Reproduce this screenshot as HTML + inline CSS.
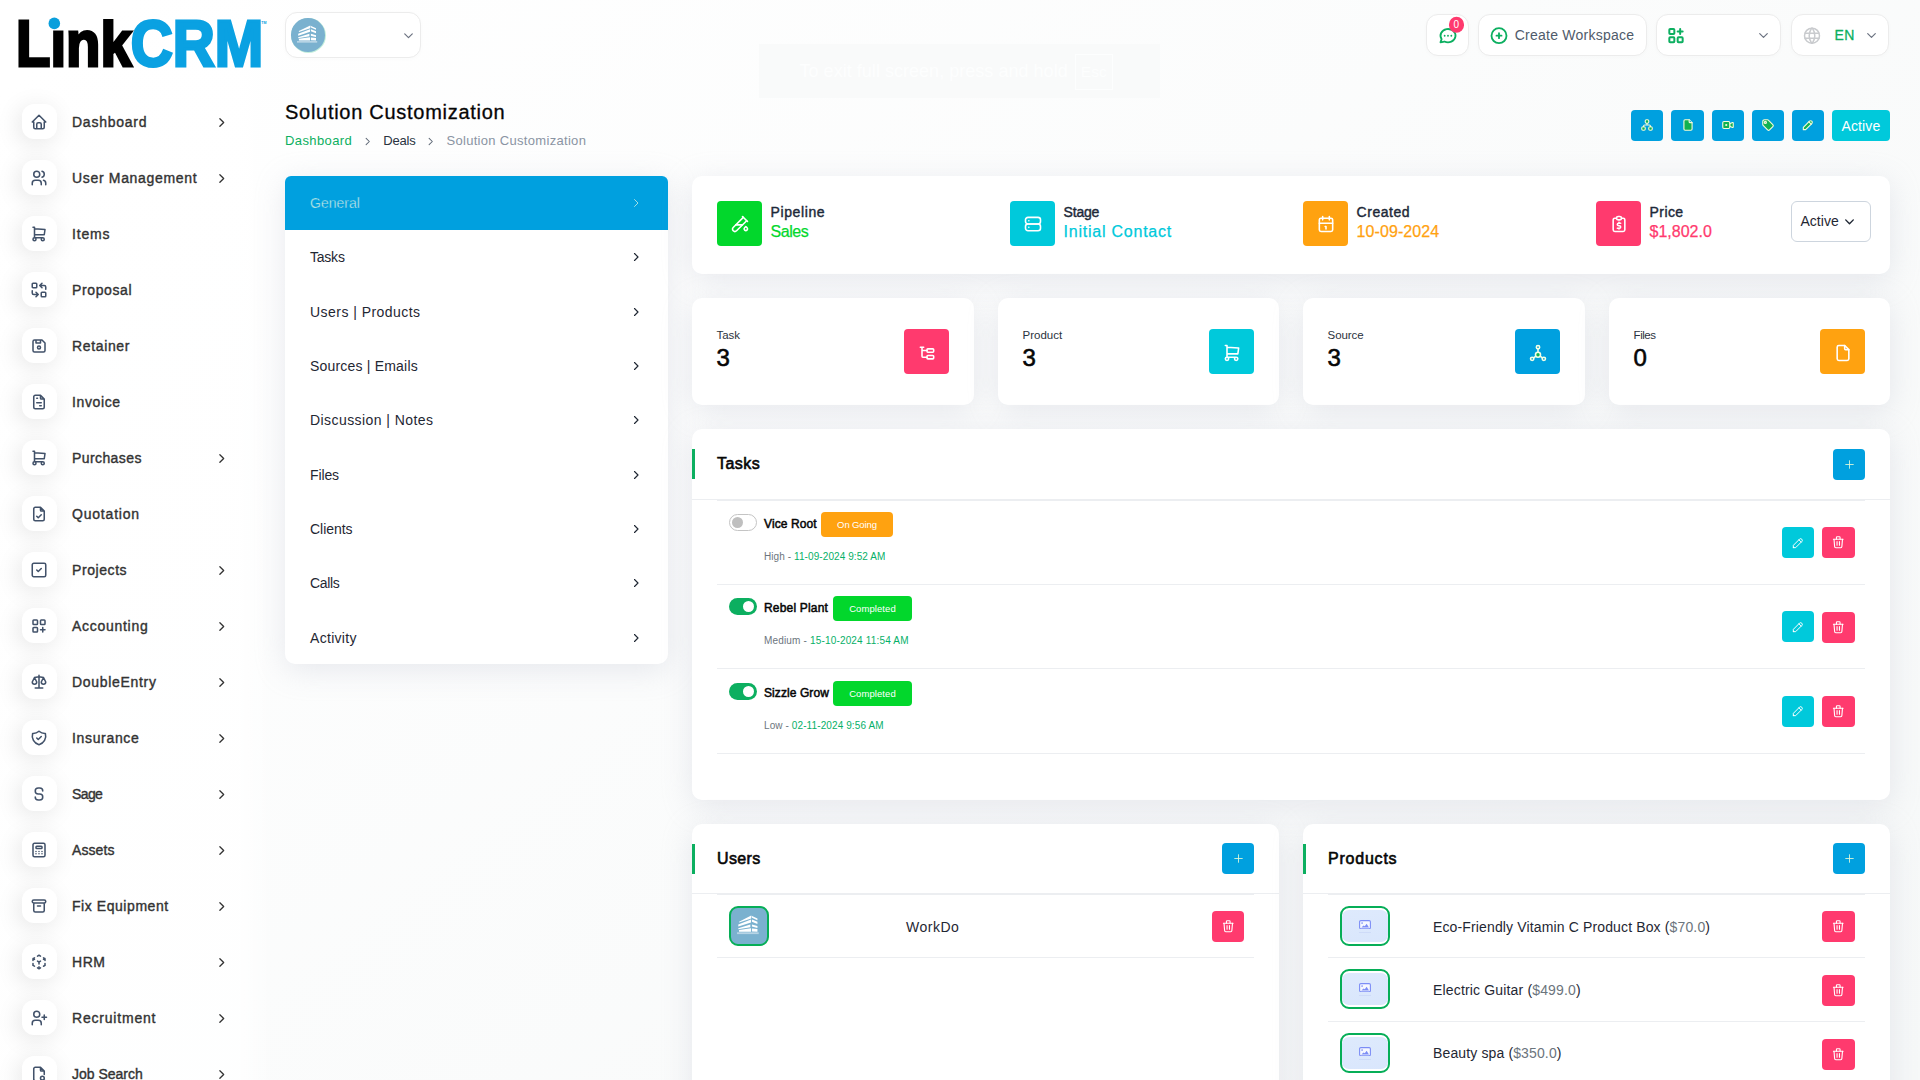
<!DOCTYPE html>
<html lang="en">
<head>
<meta charset="utf-8">
<title>Solution Customization</title>
<style>
*{box-sizing:border-box;margin:0;padding:0}
html,body{width:1920px;height:1080px;overflow:hidden}
body{font-family:"Liberation Sans",sans-serif;background:linear-gradient(141.55deg,rgba(246,248,248,0) 3.46%,#f6f8f8 99.86%),#fff;color:#060606;position:relative;font-size:14px}
.abs{position:absolute}
svg{display:block}
i{display:block}
.card{position:absolute;background:#fff;border-radius:10px;box-shadow:0 6px 30px rgba(182,186,203,.3)}
#sidebar{position:absolute;left:0;top:0;width:280px;height:1080px;background:linear-gradient(90deg,rgba(255,255,255,.85) 0,rgba(255,255,255,.85) 240px,rgba(255,255,255,0) 272px)}
.mi{position:absolute;left:22px;width:230px;height:35px}
.mi .ib{position:absolute;left:0;top:-1px;padding:1.500px 1px 0 0;width:35px;height:35px;border-radius:12px;background:#fff;box-shadow:-3px 4px 23px rgba(0,0,0,.1);display:flex;align-items:center;justify-content:center}
.mi .ib svg{width:18px;height:18px;stroke:#42526a;fill:none;stroke-width:2.05;stroke-linecap:round;stroke-linejoin:round}
.mi .tx{position:absolute;left:50px;top:0;line-height:35px;font-size:14px;font-weight:400;color:#333;white-space:nowrap;-webkit-text-stroke:.38px #333}
.mi .ch{position:absolute;left:193px;top:11.500px;width:13px;height:13px;stroke:#333;fill:none;stroke-width:2.4;stroke-linecap:round;stroke-linejoin:round}
.hb.r>*{transform:translateY(.700px)}
.hb{position:absolute;top:13.800px;height:41.900px;background:#fff;border-radius:12px;border:1px solid #ececec;box-shadow:0 1px 5px rgba(0,0,0,.02)}
.btn{position:absolute;display:flex;align-items:center;justify-content:center}
.ttl{font-size:20px;line-height:28px;color:#060606;white-space:nowrap;-webkit-text-stroke:.3px #060606}
.bc{display:flex;align-items:center;font-size:13px;line-height:20px;white-space:nowrap}
.bcs{width:11px;height:11px;margin:1px 10px 0 10px;fill:none;stroke:#5d6775;stroke-width:2.2;stroke-linecap:round;stroke-linejoin:round}
.ln{position:absolute;left:25px;width:332px;height:24px;line-height:24px;font-size:14px;white-space:nowrap}
.lch{position:absolute;right:0;top:6px;width:12px;height:12px;fill:none;stroke:#1f2733;stroke-width:2.3;stroke-linecap:round;stroke-linejoin:round}
.il1{font-size:14px;font-weight:400;line-height:21px;color:#1d2939;white-space:nowrap;-webkit-text-stroke:.42px #1d2939}
.il2{font-size:16px;line-height:22px;white-space:nowrap;-webkit-text-stroke:.25px currentColor}
.sl{font-size:11.500px;line-height:16px;color:#2b3340;white-space:nowrap}
.sn{font-size:24px;line-height:32px;color:#060606;white-space:nowrap;-webkit-text-stroke:.6px #060606}
.ch5{font-size:16px;font-weight:400;line-height:29px;color:#060606;white-space:nowrap;-webkit-text-stroke:.6px #060606}
.tn{font-size:12px;font-weight:400;-webkit-text-stroke:.5px #060606;line-height:22px;color:#060606;white-space:nowrap}
.tb{height:25px;line-height:25px;text-align:center;color:#fff;font-size:9.500px;border-radius:4px;white-space:nowrap}
.ts{font-size:10px;line-height:16px;color:#6c757d;white-space:nowrap}
.pn{font-size:14px;line-height:22px;color:#1f2733;white-space:nowrap}

</style>
</head>
<body>
<div id="sidebar">
<div class="mi" style="top:104.5px"><span class="ib"><svg viewBox="0 0 24 24"><path d="M5 12l-2 0l9 -9l9 9l-2 0 M5 12v7a2 2 0 0 0 2 2h10a2 2 0 0 0 2 -2v-7 M9 21v-6a2 2 0 0 1 2 -2h2a2 2 0 0 1 2 2v6"/></svg></span><span class="tx"><span id="m0" style="letter-spacing:0.762px;">Dashboard</span></span><svg class="ch" viewBox="0 0 24 24"><path d="M9 5l7 7l-7 7"/></svg></div>
<div class="mi" style="top:160.5px"><span class="ib"><svg viewBox="0 0 24 24"><path d="M9 7m-4 0a4 4 0 1 0 8 0a4 4 0 1 0 -8 0 M3 21v-2a4 4 0 0 1 4 -4h4a4 4 0 0 1 4 4v2 M16 3.13a4 4 0 0 1 0 7.75 M21 21v-2a4 4 0 0 0 -3 -3.85"/></svg></span><span class="tx"><span id="m1" style="letter-spacing:0.673px;">User Management</span></span><svg class="ch" viewBox="0 0 24 24"><path d="M9 5l7 7l-7 7"/></svg></div>
<div class="mi" style="top:216.5px"><span class="ib"><svg viewBox="0 0 24 24"><path d="M6 19m-2 0a2 2 0 1 0 4 0a2 2 0 1 0 -4 0 M17 19m-2 0a2 2 0 1 0 4 0a2 2 0 1 0 -4 0 M17 17h-11v-14h-2 M6 5l14 1l-1 7h-13"/></svg></span><span class="tx"><span id="m2" style="letter-spacing:0.800px;">Items</span></span></div>
<div class="mi" style="top:272.5px"><span class="ib"><svg viewBox="0 0 24 24"><path d="M3 3m0 1a1 1 0 0 1 1 -1h4a1 1 0 0 1 1 1v4a1 1 0 0 1 -1 1h-4a1 1 0 0 1 -1 -1z M15 15m0 1a1 1 0 0 1 1 -1h4a1 1 0 0 1 1 1v4a1 1 0 0 1 -1 1h-4a1 1 0 0 1 -1 -1z M21 11v-3a2 2 0 0 0 -2 -2h-6l3 3m0 -6l-3 3 M3 13v3a2 2 0 0 0 2 2h6l-3 -3m0 6l3 -3"/></svg></span><span class="tx"><span id="m3" style="letter-spacing:0.622px;">Proposal</span></span></div>
<div class="mi" style="top:328.5px"><span class="ib"><svg viewBox="0 0 24 24"><path d="M6 4h10l4 4v10a2 2 0 0 1 -2 2h-12a2 2 0 0 1 -2 -2v-12a2 2 0 0 1 2 -2 M12 14m-2 0a2 2 0 1 0 4 0a2 2 0 1 0 -4 0 M14 4l0 4l-6 0l0 -4"/></svg></span><span class="tx"><span id="m4" style="letter-spacing:0.649px;">Retainer</span></span></div>
<div class="mi" style="top:384.5px"><span class="ib"><svg viewBox="0 0 24 24"><path d="M14 3v4a1 1 0 0 0 1 1h4 M17 21h-10a2 2 0 0 1 -2 -2v-14a2 2 0 0 1 2 -2h7l5 5v11a2 2 0 0 1 -2 2z M9 7l1 0 M9 13l6 0 M13 17l2 0"/></svg></span><span class="tx"><span id="m5" style="letter-spacing:0.621px;">Invoice</span></span></div>
<div class="mi" style="top:440.5px"><span class="ib"><svg viewBox="0 0 24 24"><path d="M6 19m-2 0a2 2 0 1 0 4 0a2 2 0 1 0 -4 0 M17 19m-2 0a2 2 0 1 0 4 0a2 2 0 1 0 -4 0 M17 17h-11v-14h-2 M6 5l14 1l-1 7h-13"/></svg></span><span class="tx"><span id="m6" style="letter-spacing:0.407px;">Purchases</span></span><svg class="ch" viewBox="0 0 24 24"><path d="M9 5l7 7l-7 7"/></svg></div>
<div class="mi" style="top:496.5px"><span class="ib"><svg viewBox="0 0 24 24"><path d="M14 3v4a1 1 0 0 0 1 1h4 M17 21h-10a2 2 0 0 1 -2 -2v-14a2 2 0 0 1 2 -2h7l5 5v11a2 2 0 0 1 -2 2z M9 15l2 2l4 -4"/></svg></span><span class="tx"><span id="m7" style="letter-spacing:0.800px;">Quotation</span></span></div>
<div class="mi" style="top:552.5px"><span class="ib"><svg viewBox="0 0 24 24"><path d="M3 3m0 2a2 2 0 0 1 2 -2h14a2 2 0 0 1 2 2v14a2 2 0 0 1 -2 2h-14a2 2 0 0 1 -2 -2z M9 12l2 2l4 -4"/></svg></span><span class="tx"><span id="m8" style="letter-spacing:0.575px;">Projects</span></span><svg class="ch" viewBox="0 0 24 24"><path d="M9 5l7 7l-7 7"/></svg></div>
<div class="mi" style="top:608.5px"><span class="ib"><svg viewBox="0 0 24 24"><path d="M4 4m0 1a1 1 0 0 1 1 -1h4a1 1 0 0 1 1 1v4a1 1 0 0 1 -1 1h-4a1 1 0 0 1 -1 -1z M14 4m0 1a1 1 0 0 1 1 -1h4a1 1 0 0 1 1 1v4a1 1 0 0 1 -1 1h-4a1 1 0 0 1 -1 -1z M4 14m0 1a1 1 0 0 1 1 -1h4a1 1 0 0 1 1 1v4a1 1 0 0 1 -1 1h-4a1 1 0 0 1 -1 -1z M14 17h6m-3 -3v6"/></svg></span><span class="tx"><span id="m9" style="letter-spacing:0.713px;">Accounting</span></span><svg class="ch" viewBox="0 0 24 24"><path d="M9 5l7 7l-7 7"/></svg></div>
<div class="mi" style="top:664.5px"><span class="ib"><svg viewBox="0 0 24 24"><path d="M7 20l10 0 M6 6l6 -1l6 1 M12 3l0 17 M9 12l-3 -6l-3 6a3 3 0 0 0 6 0 M21 12l-3 -6l-3 6a3 3 0 0 0 6 0"/></svg></span><span class="tx"><span id="m10" style="letter-spacing:0.686px;">DoubleEntry</span></span><svg class="ch" viewBox="0 0 24 24"><path d="M9 5l7 7l-7 7"/></svg></div>
<div class="mi" style="top:720.5px"><span class="ib"><svg viewBox="0 0 24 24"><path d="M9 12l2 2l4 -4 M12 3a12 12 0 0 0 8.5 3a12 12 0 0 1 -8.5 15a12 12 0 0 1 -8.5 -15a12 12 0 0 0 8.5 -3"/></svg></span><span class="tx"><span id="m11" style="letter-spacing:0.663px;">Insurance</span></span><svg class="ch" viewBox="0 0 24 24"><path d="M9 5l7 7l-7 7"/></svg></div>
<div class="mi" style="top:776.5px"><span class="ib"><svg viewBox="0 0 24 24"><path d="M17 8a4 4 0 0 0 -4 -4h-2a4 4 0 0 0 0 8h2a4 4 0 0 1 0 8h-2a4 4 0 0 1 -4 -4"/></svg></span><span class="tx"><span id="m12" style="letter-spacing:-0.600px;">Sage</span></span><svg class="ch" viewBox="0 0 24 24"><path d="M9 5l7 7l-7 7"/></svg></div>
<div class="mi" style="top:832.5px"><span class="ib"><svg viewBox="0 0 24 24"><path d="M4 3m0 2a2 2 0 0 1 2 -2h12a2 2 0 0 1 2 2v14a2 2 0 0 1 -2 2h-12a2 2 0 0 1 -2 -2z M8 7m0 1a1 1 0 0 1 1 -1h6a1 1 0 0 1 1 1v1a1 1 0 0 1 -1 1h-6a1 1 0 0 1 -1 -1z M8 14l0 .01 M12 14l0 .01 M16 14l0 .01 M8 17l0 .01 M12 17l0 .01 M16 17l0 .01"/></svg></span><span class="tx"><span id="m13" style="letter-spacing:0.077px;">Assets</span></span><svg class="ch" viewBox="0 0 24 24"><path d="M9 5l7 7l-7 7"/></svg></div>
<div class="mi" style="top:888.5px"><span class="ib"><svg viewBox="0 0 24 24"><path d="M3 4m0 2a2 2 0 0 1 2 -2h14a2 2 0 0 1 2 2v0a2 2 0 0 1 -2 2h-14a2 2 0 0 1 -2 -2z M5 8v10a2 2 0 0 0 2 2h10a2 2 0 0 0 2 -2v-10 M10 12l4 0"/></svg></span><span class="tx"><span id="m14" style="letter-spacing:0.559px;">Fix Equipment</span></span><svg class="ch" viewBox="0 0 24 24"><path d="M9 5l7 7l-7 7"/></svg></div>
<div class="mi" style="top:944.5px"><span class="ib"><svg viewBox="0 0 24 24"><path d="M6 17.6l-2 -1.1v-2.5 M4 10v-2.5l2 -1.1 M10 4.1l2 -1.1l2 1.1 M18 6.4l2 1.1v2.5 M20 14v2.5l-2 1.12 M14 19.9l-2 1.1l-2 -1.1 M12 12l2 -1.1 M18 8.6l2 -1.1 M12 12l0 2.5 M12 18.5l0 2.5 M12 12l-2 -1.12 M6 8.6l-2 -1.1"/></svg></span><span class="tx"><span id="m15" style="letter-spacing:0.540px;">HRM</span></span><svg class="ch" viewBox="0 0 24 24"><path d="M9 5l7 7l-7 7"/></svg></div>
<div class="mi" style="top:1000.5px"><span class="ib"><svg viewBox="0 0 24 24"><path d="M9 7m-4 0a4 4 0 1 0 8 0a4 4 0 1 0 -8 0 M3 21v-2a4 4 0 0 1 4 -4h4a4 4 0 0 1 4 4v2 M16 11h6m-3 -3v6"/></svg></span><span class="tx"><span id="m16" style="letter-spacing:0.800px;">Recruitment</span></span><svg class="ch" viewBox="0 0 24 24"><path d="M9 5l7 7l-7 7"/></svg></div>
<div class="mi" style="top:1056.5px"><span class="ib"><svg viewBox="0 0 24 24"><path d="M14 3v4a1 1 0 0 0 1 1h4 M12 21h-5a2 2 0 0 1 -2 -2v-14a2 2 0 0 1 2 -2h7l5 5v4.5 M16.5 17.5m-2.5 0a2.5 2.5 0 1 0 5 0a2.5 2.5 0 1 0 -5 0 M18.5 19.5l2.5 2.5"/></svg></span><span class="tx"><span id="m17">Job Search</span></span><svg class="ch" viewBox="0 0 24 24"><path d="M9 5l7 7l-7 7"/></svg></div>
</div>
<div id="header">
<!-- logo -->
<svg class="abs" style="left:0;top:0" width="280" height="90" viewBox="0 0 280 90">
  <defs><clipPath id="lc"><rect x="0" y="19" width="280" height="60"/></clipPath></defs>
  <g clip-path="url(#lc)" font-family="Liberation Sans, sans-serif" font-weight="700" font-size="65.500" stroke-width="3" stroke-linejoin="miter">
  <text y="65.500"><tspan x="16.100" fill="#000" stroke="#000" textLength="115.600" lengthAdjust="spacingAndGlyphs">Link</tspan><tspan x="130.800" fill="#0aa1e2" stroke="#0aa1e2" textLength="132.500" lengthAdjust="spacingAndGlyphs">CRM</tspan></text>
  </g>
  <rect x="44" y="14" width="21.500" height="15.900" fill="#fff"/>
  <circle cx="54.300" cy="23.400" r="5.800" fill="#0a9fdc"/>
  <text x="261.300" y="23.600" font-family="Liberation Sans, sans-serif" font-weight="700" font-size="3.600" fill="#0aa0e0">TM</text>
</svg>
<!-- workspace dropdown -->
<div class="hb" style="left:285px;top:12px;width:136px;height:45.500px">
  <div class="abs" style="left:4.700px;top:4.600px;width:35px;height:35px;border-radius:50%;background:#c4efdc"></div>
  <div class="abs" style="left:5.400px;top:5.300px;width:33.600px;height:33.600px;border-radius:50%;background:#7ab1cf"></div>
  <svg class="abs" style="left:11px;top:11px" width="21" height="20" viewBox="0 0 21 20"><g fill="#fff"><path d="M1.900 7.100L13.200 1.500V4.300L1.900 8zM1.200 9.800L13 5.200V7.800L1.200 11.700zM1.200 13.300L12.400 9.700V12.300L1.200 14.300zM1.900 14.800L13 13.300V16.400L1.900 16.600zM13.500 1.700L19 4.300V5.800L13.900 3.400zM13.900 5.200L19 7.300V9.200L13.900 7.300zM13.900 9.800L19 11.200V13.100L13.900 11.700zM13.900 13.500L19 14V16.400L13.900 16.200z"/><rect x="0" y="17" width="20.200" height="1.700" opacity=".45"/></g></svg>
  <svg class="abs" style="left:116px;top:16px" width="13" height="13" viewBox="0 0 24 24" fill="none" stroke="#6b7280" stroke-width="2.200" stroke-linecap="round" stroke-linejoin="round"><path d="M5 9l7 7l7 -7"/></svg>
</div>
<!-- chat -->
<div class="hb r" style="left:1425.500px;width:43px">
  <svg class="abs" style="left:11px;top:10.500px" width="20" height="20" viewBox="0 0 24 24" fill="none" stroke="#0caf60" stroke-width="2.200" stroke-linecap="round" stroke-linejoin="round"><path d="M3 20l1.3 -3.9a9 8 0 1 1 3.4 2.9l-4.7 1"/><path d="M8 12v.01M12 12v.01M16 12v.01"/></svg>
  <div class="abs" style="left:22px;top:1.500px;width:15.500px;height:15.500px;border-radius:50%;background:#ff3a6e;color:#fff;font-size:10px;line-height:15.5px;text-align:center">0</div>
</div>
<!-- create workspace -->
<div class="hb r" style="left:1477.500px;width:169px">
  <svg class="abs" style="left:10.300px;top:10.300px" width="20" height="20" viewBox="0 0 24 24" fill="none" stroke="#0caf60" stroke-width="2.200" stroke-linecap="round" stroke-linejoin="round"><circle cx="12" cy="12" r="9"/><path d="M9 12h6M12 9v6"/></svg>
  <span class="abs" style="left:36.200px;top:.600px;line-height:39px;font-size:14px;color:#4f5b6b;white-space:nowrap"><span id="cw" style="letter-spacing:0.241px;">Create Workspace</span></span>
</div>
<!-- apps -->
<div class="hb r" style="left:1655.500px;width:125.700px">
  <svg class="abs" style="left:9.700px;top:10px" width="20" height="20" viewBox="0 0 24 24" fill="none" stroke="#0caf60" stroke-width="2.4" stroke-linecap="round" stroke-linejoin="round"><rect x="4" y="4" width="6" height="6" rx="1"/><rect x="4" y="14" width="6" height="6" rx="1"/><rect x="14" y="14" width="6" height="6" rx="1"/><path d="M14 7h6M17 4v6"/></svg>
  <svg class="abs" style="left:100px;top:13px" width="13" height="13" viewBox="0 0 24 24" fill="none" stroke="#6b7280" stroke-width="2.2" stroke-linecap="round" stroke-linejoin="round"><path d="M5 9l7 7l7 -7"/></svg>
</div>
<!-- lang -->
<div class="hb r" style="left:1790.600px;width:98.500px">
  <svg class="abs" style="left:10px;top:10px" width="20" height="20" viewBox="0 0 24 24" fill="none" stroke="#c9cbce" stroke-width="1.8" stroke-linecap="round" stroke-linejoin="round"><circle cx="12" cy="12" r="9"/><path d="M3.6 9h16.8M3.6 15h16.8M11.5 3a17 17 0 0 0 0 18M12.5 3a17 17 0 0 1 0 18"/></svg>
  <span class="abs" style="left:43px;top:0;line-height:39px;font-size:14px;color:#0caf60;-webkit-text-stroke:.3px #0caf60;white-space:nowrap"><span id="en" style="letter-spacing:0.362px;">EN</span></span>
  <svg class="abs" style="left:73px;top:13px" width="13" height="13" viewBox="0 0 24 24" fill="none" stroke="#6b7280" stroke-width="2.2" stroke-linecap="round" stroke-linejoin="round"><path d="M5 9l7 7l7 -7"/></svg>
</div>
<!-- fullscreen hint (very faint) -->
<div class="abs" style="left:759px;top:44px;width:401px;height:54px;background:#f9fafa;color:#fdfefe;font-size:18px;line-height:54px;white-space:nowrap;overflow:hidden"><span class="abs" style="left:40.500px;top:0"><span id="fs1" style="letter-spacing:0.031px;">To exit full screen, press and hold</span></span><span class="abs" style="left:316px;top:10px;width:37.500px;height:36px;border:1px solid #fdfefe;line-height:34px;text-align:center;font-size:15.500px">Esc</span></div>

</div>
<div id="content">
<div class="abs ttl" style="left:285px;top:98px"><span id="ttl1" style="letter-spacing:0.722px;">Solution Customization</span></div>
<div class="abs bc" style="left:285px;top:130.500px"><span id="bc1" style="letter-spacing:0.404px;color:#0caf60">Dashboard</span><svg class="bcs" viewBox="0 0 24 24"><path d="M9 5l7 7l-7 7"/></svg><span id="bc2" style="letter-spacing:-0.209px;color:#293240">Deals</span><svg class="bcs" viewBox="0 0 24 24"><path d="M9 5l7 7l-7 7"/></svg><span id="bc3" style="letter-spacing:0.308px;color:#8a94a3">Solution Customization</span></div>
<div class="btn" style="left:1630.8px;top:109.8px;width:32.2px;height:31.2px;background:#00a0df;border-radius:4px"><svg width="14" height="14" viewBox="0 0 24 24" stroke-width="1.900" stroke-linecap="round" stroke-linejoin="round" style="margin-top:-.600px"><rect x="3" y="15" width="6" height="6" rx="2" stroke="#f5fbd8" fill="#10b152"/><rect x="15" y="15" width="6" height="6" rx="2" stroke="#f5fbd8" fill="#10b152"/><rect x="9" y="3" width="6" height="6" rx="2" stroke="#f5fbd8" fill="#10b152"/><path d="M6 15v-1a2 2 0 0 1 2 -2h8a2 2 0 0 1 2 2v1M12 9l0 3" fill="none" stroke="#f5fbd8"/></svg></div>
<div class="btn" style="left:1671px;top:109.8px;width:33px;height:31.2px;background:#00a0df;border-radius:4px"><svg width="14" height="14" viewBox="0 0 24 24" stroke-width="1.900" stroke-linecap="round" stroke-linejoin="round" style="margin-top:-.600px"><path d="M17 21h-10a2 2 0 0 1 -2 -2v-14a2 2 0 0 1 2 -2h7l5 5v11a2 2 0 0 1 -2 2z" stroke="#f5fbd8" fill="#10b152"/><path d="M14 3v4a1 1 0 0 0 1 1h4" fill="#00a0df" stroke="#f5fbd8"/></svg></div>
<div class="btn" style="left:1711.9px;top:109.8px;width:32.2px;height:31.2px;background:#00a0df;border-radius:4px"><svg width="14" height="14" viewBox="0 0 24 24" stroke-width="1.900" stroke-linecap="round" stroke-linejoin="round" style="margin-top:-.600px"><path d="M15 10l4.553 -2.276a1 1 0 0 1 1.447 .894v6.764a1 1 0 0 1 -1.447 .894l-4.553 -2.276z" stroke="#f5fbd8" fill="#10b152"/><rect x="3" y="6" width="12" height="12" rx="2" stroke="#f5fbd8" fill="#10b152"/><circle cx="9" cy="12" r="1.900" fill="#f5fbd8" stroke="none"/></svg></div>
<div class="btn" style="left:1751.9px;top:109.8px;width:32.2px;height:31.2px;background:#00a0df;border-radius:4px"><svg width="14" height="14" viewBox="0 0 24 24" stroke-width="1.900" stroke-linecap="round" stroke-linejoin="round" style="margin-top:-.600px"><path d="M3 6v5.172a2 2 0 0 0 .586 1.414l7.710 7.710a2.410 2.410 0 0 0 3.408 0l5.592 -5.592a2.410 2.410 0 0 0 0 -3.408l-7.710 -7.710a2 2 0 0 0 -1.414 -.586h-5.172a3 3 0 0 0 -3 3z" stroke="#f5fbd8" fill="#10b152"/><circle cx="7.500" cy="7.500" r="1.700" fill="#0a6fa0" stroke="#f5fbd8" stroke-width="2.200"/></svg></div>
<div class="btn" style="left:1791.7px;top:109.8px;width:32.3px;height:31.2px;background:#00a0df;border-radius:4px"><svg width="14" height="14" viewBox="0 0 24 24" stroke-width="1.900" stroke-linecap="round" stroke-linejoin="round" style="margin-top:-.600px"><path d="M4 20h4l10.500 -10.500a2.828 2.828 0 1 0 -4 -4l-10.500 10.500v4" stroke="#f5fbd8" fill="#10b152"/><path d="M13.500 6.500l4 4" stroke="#f5fbd8"/></svg></div>
<div class="btn" style="left:1831.900px;top:109.800px;width:58.100px;height:31.200px;background:#00c9db;border-radius:4px;color:#fff;font-size:14px;padding-top:2px"><span id="actv1" style="letter-spacing:0.112px;">Active</span></div>
<div class="card" style="left:285px;top:176px;width:383px;height:488px;overflow:hidden;border-radius:6px 6px 10px 10px">
<div class="abs" style="left:0;top:0;width:383px;height:54px;background:#00a0df"></div>
<div class="ln" style="top:15px;color:#e6fbe6;-webkit-text-stroke:.45px #00a0df"><span id="ln0">General</span><svg class="lch" viewBox="0 0 24 24" style="stroke:#e6fbe6;stroke-width:1.400"><path d="M9 5l7 7l-7 7"/></svg></div>
<div class="ln" style="top:69px;color:#1f2733;"><span id="ln1" style="letter-spacing:-0.222px;">Tasks</span><svg class="lch" viewBox="0 0 24 24" style="stroke:#1f2733;stroke-width:2.300"><path d="M9 5l7 7l-7 7"/></svg></div>
<div class="ln" style="top:124px;color:#1f2733;"><span id="ln2" style="letter-spacing:0.458px;">Users | Products</span><svg class="lch" viewBox="0 0 24 24" style="stroke:#1f2733;stroke-width:2.300"><path d="M9 5l7 7l-7 7"/></svg></div>
<div class="ln" style="top:178px;color:#1f2733;"><span id="ln3" style="letter-spacing:0.195px;">Sources | Emails</span><svg class="lch" viewBox="0 0 24 24" style="stroke:#1f2733;stroke-width:2.300"><path d="M9 5l7 7l-7 7"/></svg></div>
<div class="ln" style="top:232px;color:#1f2733;"><span id="ln4" style="letter-spacing:0.425px;">Discussion | Notes</span><svg class="lch" viewBox="0 0 24 24" style="stroke:#1f2733;stroke-width:2.300"><path d="M9 5l7 7l-7 7"/></svg></div>
<div class="ln" style="top:287px;color:#1f2733;"><span id="ln5" style="letter-spacing:-0.115px;">Files</span><svg class="lch" viewBox="0 0 24 24" style="stroke:#1f2733;stroke-width:2.300"><path d="M9 5l7 7l-7 7"/></svg></div>
<div class="ln" style="top:341px;color:#1f2733;"><span id="ln6" style="letter-spacing:-0.032px;">Clients</span><svg class="lch" viewBox="0 0 24 24" style="stroke:#1f2733;stroke-width:2.300"><path d="M9 5l7 7l-7 7"/></svg></div>
<div class="ln" style="top:395px;color:#1f2733;"><span id="ln7" style="letter-spacing:-0.354px;">Calls</span><svg class="lch" viewBox="0 0 24 24" style="stroke:#1f2733;stroke-width:2.300"><path d="M9 5l7 7l-7 7"/></svg></div>
<div class="ln" style="top:450px;color:#1f2733;"><span id="ln8" style="letter-spacing:0.302px;">Activity</span><svg class="lch" viewBox="0 0 24 24" style="stroke:#1f2733;stroke-width:2.300"><path d="M9 5l7 7l-7 7"/></svg></div>
</div>
<div class="card" style="left:692px;top:176px;width:1198px;height:98px"></div>
<div class="btn" style="left:717px;top:201px;width:45px;height:45px;background:#02d72c;border-radius:4px"><svg width="20" height="20" viewBox="0 0 24 24" fill="none" stroke="#fff" stroke-width="1.9" stroke-linecap="round" stroke-linejoin="round" style="margin-top:1px"><path d="M20 8.040l-12.122 12.124a2.857 2.857 0 1 1 -4.041 -4.040l12.122 -12.124"/><path d="M7 13h8"/><path d="M19 15l1.500 1.600a2 2 0 1 1 -3 0l1.500 -1.600z"/><path d="M15 3l6 6"/></svg></div>
<div class="abs il1" style="left:770.6px;top:202.200px"><span id="ia0" style="letter-spacing:0.596px;">Pipeline</span></div>
<div class="abs il2" style="left:770.6px;top:221px;color:#02d72c"><span id="ib0" style="letter-spacing:-0.456px;">Sales</span></div>
<div class="btn" style="left:1010px;top:201px;width:45px;height:45px;background:#00c9db;border-radius:4px"><svg width="20" height="20" viewBox="0 0 24 24" fill="none" stroke="#fff" stroke-width="1.9" stroke-linecap="round" stroke-linejoin="round" style="margin-top:1px"><rect x="3" y="4" width="18" height="8" rx="3"/><rect x="3" y="12" width="18" height="8" rx="3"/><path d="M7 8v.010M7 16v.010"/></svg></div>
<div class="abs il1" style="left:1063.6px;top:202.200px"><span id="ia1" style="letter-spacing:-0.200px;">Stage</span></div>
<div class="abs il2" style="left:1063.6px;top:221px;color:#00c9db"><span id="ib1" style="letter-spacing:0.765px;">Initial Contact</span></div>
<div class="btn" style="left:1303px;top:201px;width:45px;height:45px;background:#ffa210;border-radius:4px"><svg width="20" height="20" viewBox="0 0 24 24" fill="none" stroke="#fff" stroke-width="1.9" stroke-linecap="round" stroke-linejoin="round" style="margin-top:1px"><rect x="4" y="5" width="16" height="16" rx="2"/><path d="M16 3v4M8 3v4M4 11h16M11 15h1M12 15v3"/></svg></div>
<div class="abs il1" style="left:1356.6px;top:202.200px"><span id="ia2" style="letter-spacing:0.530px;">Created</span></div>
<div class="abs il2" style="left:1356.6px;top:221px;color:#ffa210"><span id="ib2" style="letter-spacing:0.084px;">10-09-2024</span></div>
<div class="btn" style="left:1596px;top:201px;width:45px;height:45px;background:#ff3a6e;border-radius:4px"><svg width="20" height="20" viewBox="0 0 24 24" fill="none" stroke="#fff" stroke-width="1.9" stroke-linecap="round" stroke-linejoin="round" style="margin-top:1px"><path d="M9 5h-2a2 2 0 0 0 -2 2v12a2 2 0 0 0 2 2h10a2 2 0 0 0 2 -2v-12a2 2 0 0 0 -2 -2h-2"/><rect x="9" y="3" width="6" height="4" rx="2"/><path d="M14 11h-2.500a1.500 1.500 0 0 0 0 3h1a1.500 1.500 0 0 1 0 3h-2.500M12 17v1m0 -8v1"/></svg></div>
<div class="abs il1" style="left:1649.6px;top:202.200px"><span id="ia3" style="letter-spacing:0.397px;">Price</span></div>
<div class="abs il2" style="left:1649.6px;top:221px;color:#ff3a6e"><span id="ib3" style="letter-spacing:-0.012px;">$1,802.0</span></div>
<div class="abs" style="left:1791px;top:201px;width:80px;height:41px;border:1px solid #cdd5de;border-radius:6px;background:#fff"><span class="abs" style="left:8.500px;top:0;line-height:39px;font-size:14px;color:#1f2733"><span id="sel1" style="letter-spacing:0.012px;">Active</span></span><svg class="abs" style="left:50.500px;top:13px" width="13" height="13" viewBox="0 0 24 24" fill="none" stroke="#1f2733" stroke-width="2.600" stroke-linecap="round" stroke-linejoin="round"><path d="M5 9l7 7l7 -7"/></svg></div>
<div class="card" style="left:692px;top:298px;width:282px;height:107px"></div>
<div class="abs sl" style="left:716.6px;top:327px"><span id="sl0" style="letter-spacing:-0.065px;">Task</span></div>
<div class="abs sn" style="left:716.5px;top:342px">3</div>
<div class="btn" style="left:904px;top:329px;width:45px;height:45px;background:#ff3a6e;border-radius:4px"><svg width="20" height="20" viewBox="0 0 24 24" fill="none" stroke="#fff" stroke-width="1.9" stroke-linecap="round" stroke-linejoin="round" style="margin-top:2.200px"><path d="M6 9l6 0M4 5l4 0M6 5v11a1 1 0 0 0 1 1h5"/><rect x="12" y="7" width="8" height="4" rx="1"/><rect x="12" y="15" width="8" height="4" rx="1"/></svg></div>
<div class="card" style="left:998px;top:298px;width:281px;height:107px"></div>
<div class="abs sl" style="left:1022.6px;top:327px"><span id="sl1" style="letter-spacing:-0.023px;">Product</span></div>
<div class="abs sn" style="left:1022.5px;top:342px">3</div>
<div class="btn" style="left:1209px;top:329px;width:45px;height:45px;background:#00c9db;border-radius:4px"><svg width="20" height="20" viewBox="0 0 24 24" fill="none" stroke="#fff" stroke-width="1.9" stroke-linecap="round" stroke-linejoin="round" style="margin-top:2.200px"><path d="M6 19m-2 0a2 2 0 1 0 4 0a2 2 0 1 0 -4 0 M17 19m-2 0a2 2 0 1 0 4 0a2 2 0 1 0 -4 0 M17 17h-11v-14h-2 M6 5l14 1l-1 7h-13"/></svg></div>
<div class="card" style="left:1303px;top:298px;width:282px;height:107px"></div>
<div class="abs sl" style="left:1327.6px;top:327px"><span id="sl2" style="letter-spacing:-0.068px;">Source</span></div>
<div class="abs sn" style="left:1327.5px;top:342px">3</div>
<div class="btn" style="left:1515px;top:329px;width:45px;height:45px;background:#00a0df;border-radius:4px"><svg width="20" height="20" viewBox="0 0 24 24" fill="none" stroke="#fff" stroke-width="1.9" stroke-linecap="round" stroke-linejoin="round" style="margin-top:2.200px"><path d="M12 7l0 4M6.700 17.800l2.800 -2M17.300 17.800l-2.800 -2" stroke="#f4ffe6"/><circle cx="12" cy="5" r="2" stroke="#f4ffe6" fill="#19a6c8"/><circle cx="5" cy="19" r="2" stroke="#f4ffe6" fill="#19a6c8"/><circle cx="19" cy="19" r="2" stroke="#f4ffe6" fill="#19a6c8"/><circle cx="12" cy="14" r="3" fill="#10b152" stroke="#f4ffe6"/></svg></div>
<div class="card" style="left:1609px;top:298px;width:281px;height:107px"></div>
<div class="abs sl" style="left:1633.6px;top:327px"><span id="sl3" style="letter-spacing:-0.458px;">Files</span></div>
<div class="abs sn" style="left:1633.5px;top:342px">0</div>
<div class="btn" style="left:1820px;top:329px;width:45px;height:45px;background:#ffa210;border-radius:4px"><svg width="20" height="20" viewBox="0 0 24 24" fill="none" stroke="#fff" stroke-width="1.9" stroke-linecap="round" stroke-linejoin="round" style="margin-top:2.200px"><path d="M14 3v4a1 1 0 0 0 1 1h4"/><path d="M17 21h-10a2 2 0 0 1 -2 -2v-14a2 2 0 0 1 2 -2h7l5 5v11a2 2 0 0 1 -2 2z"/></svg></div>
<div class="card" style="left:692px;top:429px;width:1198px;height:371px"></div>
<div class="abs" style="left:692px;top:449px;width:3px;height:29.500px;background:#0caf60"></div>
<div class="abs ch5" style="left:717px;top:449px"><span id="h5a" style="letter-spacing:0.450px;">Tasks</span></div>
<div class="btn" style="left:1833px;top:449px;width:32px;height:31px;background:#00a0df;border-radius:4px"><svg width="13" height="13" viewBox="0 0 24 24" fill="none" stroke="#dff7d8" stroke-width="1.6" stroke-linecap="round" stroke-linejoin="round" style=""><path d="M12 5l0 14"/><path d="M5 12l14 0"/></svg></div>
<div class="abs" style="left:692px;top:499px;width:1198px;height:1px;background:#eceef1"></div>
<div class="abs" style="left:717px;top:499.7px;width:1148px;height:1px;background:#eceef1"></div>
<div class="abs" style="left:729px;top:514px;width:28px;height:17px;border-radius:9px;background:#fff;border:1px solid #c4c4c4"><i style="position:absolute;left:2px;top:2px;width:11px;height:11px;border-radius:50%;background:#bfbfbf"></i></div>
<div class="abs tn" style="left:764px;top:513px"><span id="tn0" style="letter-spacing:0.091px;">Vice Root</span></div>
<div class="abs tb" style="left:821px;top:512px;width:72px;background:#ffa210"><span id="tb0" style="letter-spacing:-0.111px;">On Going</span></div>
<div class="abs ts" style="left:764px;top:549px"><span id="ts0" style="letter-spacing:0.085px;">High - <b style="font-weight:400;color:#06b068">11-09-2024 9:52 AM</b></span></div>
<div class="btn" style="left:1782px;top:527px;width:32px;height:31px;background:#00c9db;border-radius:4px"><svg width="14" height="14" viewBox="0 0 24 24" fill="none" stroke="#fff" stroke-width="1.7" stroke-linecap="round" stroke-linejoin="round" style=""><path d="M4 20h4l10.5 -10.5a2.828 2.828 0 1 0 -4 -4l-10.5 10.500v4"/><path d="M13.500 6.500l4 4"/></svg></div>
<div class="btn" style="left:1822px;top:527px;width:33px;height:31px;background:#ff3a6e;border-radius:4px"><svg width="14.5" height="14.5" viewBox="0 0 24 24" fill="none" stroke="#fff" stroke-width="1.85" stroke-linecap="round" stroke-linejoin="round" style=""><path d="M4 7l16 0"/><path d="M10 11l0 6"/><path d="M14 11l0 6"/><path d="M5 7l1 12a2 2 0 0 0 2 2h8a2 2 0 0 0 2 -2l1 -12"/><path d="M9 7v-3a1 1 0 0 1 1 -1h4a1 1 0 0 1 1 1v3"/></svg></div>
<div class="abs" style="left:717px;top:584px;width:1148px;height:1px;background:#eceef1"></div>
<div class="abs" style="left:729px;top:598.3px;width:28px;height:17px;border-radius:9px;background:#0caf60"><i style="position:absolute;left:14px;top:3px;width:11px;height:11px;border-radius:50%;background:#fff"></i></div>
<div class="abs tn" style="left:764px;top:597.3px"><span id="tn1" style="letter-spacing:0.179px;">Rebel Plant</span></div>
<div class="abs tb" style="left:833px;top:596.3px;width:79px;background:#02d72c"><span id="tb1" style="letter-spacing:0.080px;">Completed</span></div>
<div class="abs ts" style="left:764px;top:633.3px"><span id="ts1" style="letter-spacing:0.170px;">Medium - <b style="font-weight:400;color:#06b068">15-10-2024 11:54 AM</b></span></div>
<div class="btn" style="left:1782px;top:611.3px;width:32px;height:31px;background:#00c9db;border-radius:4px"><svg width="14" height="14" viewBox="0 0 24 24" fill="none" stroke="#fff" stroke-width="1.7" stroke-linecap="round" stroke-linejoin="round" style=""><path d="M4 20h4l10.5 -10.5a2.828 2.828 0 1 0 -4 -4l-10.5 10.500v4"/><path d="M13.500 6.500l4 4"/></svg></div>
<div class="btn" style="left:1822px;top:612.0999999999999px;width:33px;height:31px;background:#ff3a6e;border-radius:4px"><svg width="14.5" height="14.5" viewBox="0 0 24 24" fill="none" stroke="#fff" stroke-width="1.85" stroke-linecap="round" stroke-linejoin="round" style=""><path d="M4 7l16 0"/><path d="M10 11l0 6"/><path d="M14 11l0 6"/><path d="M5 7l1 12a2 2 0 0 0 2 2h8a2 2 0 0 0 2 -2l1 -12"/><path d="M9 7v-3a1 1 0 0 1 1 -1h4a1 1 0 0 1 1 1v3"/></svg></div>
<div class="abs" style="left:717px;top:668.3px;width:1148px;height:1px;background:#eceef1"></div>
<div class="abs" style="left:729px;top:682.7px;width:28px;height:17px;border-radius:9px;background:#0caf60"><i style="position:absolute;left:14px;top:3px;width:11px;height:11px;border-radius:50%;background:#fff"></i></div>
<div class="abs tn" style="left:764px;top:681.7px"><span id="tn2" style="letter-spacing:0.085px;">Sizzle Grow</span></div>
<div class="abs tb" style="left:833px;top:680.7px;width:79px;background:#02d72c"><span id="tb2" style="letter-spacing:0.080px;">Completed</span></div>
<div class="abs ts" style="left:764px;top:717.7px"><span id="ts2" style="letter-spacing:0.103px;">Low - <b style="font-weight:400;color:#06b068">02-11-2024 9:56 AM</b></span></div>
<div class="btn" style="left:1782px;top:695.7px;width:32px;height:31px;background:#00c9db;border-radius:4px"><svg width="14" height="14" viewBox="0 0 24 24" fill="none" stroke="#fff" stroke-width="1.7" stroke-linecap="round" stroke-linejoin="round" style=""><path d="M4 20h4l10.5 -10.5a2.828 2.828 0 1 0 -4 -4l-10.5 10.500v4"/><path d="M13.500 6.500l4 4"/></svg></div>
<div class="btn" style="left:1822px;top:695.7px;width:33px;height:31px;background:#ff3a6e;border-radius:4px"><svg width="14.5" height="14.5" viewBox="0 0 24 24" fill="none" stroke="#fff" stroke-width="1.85" stroke-linecap="round" stroke-linejoin="round" style=""><path d="M4 7l16 0"/><path d="M10 11l0 6"/><path d="M14 11l0 6"/><path d="M5 7l1 12a2 2 0 0 0 2 2h8a2 2 0 0 0 2 -2l1 -12"/><path d="M9 7v-3a1 1 0 0 1 1 -1h4a1 1 0 0 1 1 1v3"/></svg></div>
<div class="abs" style="left:717px;top:752.7px;width:1148px;height:1px;background:#eceef1"></div>
<div class="card" style="left:692px;top:824px;width:587px;height:300px"></div>
<div class="abs" style="left:692px;top:844px;width:3px;height:30px;background:#0caf60"></div>
<div class="abs ch5" style="left:717px;top:844px"><span id="h5b" style="letter-spacing:0.380px;">Users</span></div>
<div class="btn" style="left:1222px;top:843px;width:32px;height:31px;background:#00a0df;border-radius:4px"><svg width="13" height="13" viewBox="0 0 24 24" fill="none" stroke="#dff7d8" stroke-width="1.6" stroke-linecap="round" stroke-linejoin="round" style=""><path d="M12 5l0 14"/><path d="M5 12l14 0"/></svg></div>
<div class="abs" style="left:692px;top:893px;width:587px;height:1px;background:#eceef1"></div>
<div class="abs" style="left:717px;top:894px;width:537px;height:1px;background:#eceef1"></div>
<div class="abs" style="left:729px;top:906px;width:40px;height:40px;border-radius:9px;border:2px solid #06ae57;background:#7ab1cf"><svg class="abs" style="left:6.300px;top:6.400px" width="22.600" height="21.500" viewBox="0 0 21 20"><g fill="#fff"><path d="M1.900 7.100L13.200 1.500V4.300L1.900 8zM1.200 9.800L13 5.200V7.800L1.200 11.700zM1.200 13.300L12.400 9.700V12.300L1.200 14.300zM1.900 14.800L13 13.300V16.400L1.900 16.600zM13.500 1.700L19 4.300V5.800L13.900 3.400zM13.900 5.200L19 7.300V9.200L13.900 7.300zM13.900 9.800L19 11.200V13.100L13.900 11.700zM13.900 13.500L19 14V16.400L13.900 16.200z"/><rect x="0" y="17" width="20.200" height="1.700" opacity=".45"/></g></svg></div>
<div class="abs pn" style="left:906px;top:916px"><span id="wd" style="letter-spacing:0.496px;">WorkDo</span></div>
<div class="btn" style="left:1212px;top:911px;width:32px;height:31px;background:#ff3a6e;border-radius:4px"><svg width="14.5" height="14.5" viewBox="0 0 24 24" fill="none" stroke="#fff" stroke-width="1.85" stroke-linecap="round" stroke-linejoin="round" style=""><path d="M4 7l16 0"/><path d="M10 11l0 6"/><path d="M14 11l0 6"/><path d="M5 7l1 12a2 2 0 0 0 2 2h8a2 2 0 0 0 2 -2l1 -12"/><path d="M9 7v-3a1 1 0 0 1 1 -1h4a1 1 0 0 1 1 1v3"/></svg></div>
<div class="abs" style="left:717px;top:957px;width:537px;height:1px;background:#eceef1"></div>
<div class="card" style="left:1303px;top:824px;width:587px;height:300px"></div>
<div class="abs" style="left:1303px;top:844px;width:3px;height:30px;background:#0caf60"></div>
<div class="abs ch5" style="left:1328px;top:844px"><span id="h5c" style="letter-spacing:0.780px;">Products</span></div>
<div class="btn" style="left:1833px;top:843px;width:32px;height:31px;background:#00a0df;border-radius:4px"><svg width="13" height="13" viewBox="0 0 24 24" fill="none" stroke="#dff7d8" stroke-width="1.6" stroke-linecap="round" stroke-linejoin="round" style=""><path d="M12 5l0 14"/><path d="M5 12l14 0"/></svg></div>
<div class="abs" style="left:1303px;top:893px;width:587px;height:1px;background:#eceef1"></div>
<div class="abs" style="left:1328px;top:894px;width:537px;height:1px;background:#eceef1"></div>
<div class="abs" style="left:1340px;top:906px;width:50px;height:40px;border-radius:9px;border:2px solid #06ae57;background:linear-gradient(170deg,#deeafd,#d9e6fc);box-shadow:inset 0 2px 0 #fff,inset 0 -2px 0 #fff"><svg class="abs" style="left:17px;top:11.800px" width="12" height="9.400" viewBox="0 0 12 9.400"><rect x=".600" y=".600" width="10.800" height="8.200" rx="1.200" fill="#f6f8ff" stroke="#7c8df6" stroke-width="1.100"/><path d="M2.300 7.400L4.600 5.600L5.800 6.300L7.600 3.800L10 7.400z" fill="#7c8df6"/><circle cx="3.100" cy="3" r=".850" fill="#7c8df6"/></svg><i class="abs" style="left:17px;top:24px;width:12px;height:1px;background:#c9d5f6;opacity:.7"></i></div>
<div class="abs pn" style="left:1433px;top:915.7px"><span id="p0" style="letter-spacing:0.138px;">Eco-Friendly Vitamin C Product Box (<b style="font-weight:400;color:#6c757d">$70.0</b>)</span></div>
<div class="btn" style="left:1822px;top:911px;width:33px;height:31px;background:#ff3a6e;border-radius:4px"><svg width="14.5" height="14.5" viewBox="0 0 24 24" fill="none" stroke="#fff" stroke-width="1.85" stroke-linecap="round" stroke-linejoin="round" style=""><path d="M4 7l16 0"/><path d="M10 11l0 6"/><path d="M14 11l0 6"/><path d="M5 7l1 12a2 2 0 0 0 2 2h8a2 2 0 0 0 2 -2l1 -12"/><path d="M9 7v-3a1 1 0 0 1 1 -1h4a1 1 0 0 1 1 1v3"/></svg></div>
<div class="abs" style="left:1328px;top:957px;width:537px;height:1px;background:#eceef1"></div>
<div class="abs" style="left:1340px;top:969.3px;width:50px;height:40px;border-radius:9px;border:2px solid #06ae57;background:linear-gradient(170deg,#deeafd,#d9e6fc);box-shadow:inset 0 2px 0 #fff,inset 0 -2px 0 #fff"><svg class="abs" style="left:17px;top:11.800px" width="12" height="9.400" viewBox="0 0 12 9.400"><rect x=".600" y=".600" width="10.800" height="8.200" rx="1.200" fill="#f6f8ff" stroke="#7c8df6" stroke-width="1.100"/><path d="M2.300 7.400L4.600 5.600L5.800 6.300L7.600 3.800L10 7.400z" fill="#7c8df6"/><circle cx="3.100" cy="3" r=".850" fill="#7c8df6"/></svg><i class="abs" style="left:17px;top:24px;width:12px;height:1px;background:#c9d5f6;opacity:.7"></i></div>
<div class="abs pn" style="left:1433px;top:979.0px"><span id="p1" style="letter-spacing:0.162px;">Electric Guitar (<b style="font-weight:400;color:#6c757d">$499.0</b>)</span></div>
<div class="btn" style="left:1822px;top:975.0px;width:33px;height:31px;background:#ff3a6e;border-radius:4px"><svg width="14.5" height="14.5" viewBox="0 0 24 24" fill="none" stroke="#fff" stroke-width="1.85" stroke-linecap="round" stroke-linejoin="round" style=""><path d="M4 7l16 0"/><path d="M10 11l0 6"/><path d="M14 11l0 6"/><path d="M5 7l1 12a2 2 0 0 0 2 2h8a2 2 0 0 0 2 -2l1 -12"/><path d="M9 7v-3a1 1 0 0 1 1 -1h4a1 1 0 0 1 1 1v3"/></svg></div>
<div class="abs" style="left:1328px;top:1021px;width:537px;height:1px;background:#eceef1"></div>
<div class="abs" style="left:1340px;top:1032.8px;width:50px;height:40px;border-radius:9px;border:2px solid #06ae57;background:linear-gradient(170deg,#deeafd,#d9e6fc);box-shadow:inset 0 2px 0 #fff,inset 0 -2px 0 #fff"><svg class="abs" style="left:17px;top:11.800px" width="12" height="9.400" viewBox="0 0 12 9.400"><rect x=".600" y=".600" width="10.800" height="8.200" rx="1.200" fill="#f6f8ff" stroke="#7c8df6" stroke-width="1.100"/><path d="M2.300 7.400L4.600 5.600L5.800 6.300L7.600 3.800L10 7.400z" fill="#7c8df6"/><circle cx="3.100" cy="3" r=".850" fill="#7c8df6"/></svg><i class="abs" style="left:17px;top:24px;width:12px;height:1px;background:#c9d5f6;opacity:.7"></i></div>
<div class="abs pn" style="left:1433px;top:1041.9px"><span id="p2" style="letter-spacing:0.132px;">Beauty spa (<b style="font-weight:400;color:#6c757d">$350.0</b>)</span></div>
<div class="btn" style="left:1822px;top:1038.5px;width:33px;height:31px;background:#ff3a6e;border-radius:4px"><svg width="14.5" height="14.5" viewBox="0 0 24 24" fill="none" stroke="#fff" stroke-width="1.85" stroke-linecap="round" stroke-linejoin="round" style=""><path d="M4 7l16 0"/><path d="M10 11l0 6"/><path d="M14 11l0 6"/><path d="M5 7l1 12a2 2 0 0 0 2 2h8a2 2 0 0 0 2 -2l1 -12"/><path d="M9 7v-3a1 1 0 0 1 1 -1h4a1 1 0 0 1 1 1v3"/></svg></div>
</div>
</body>
</html>
